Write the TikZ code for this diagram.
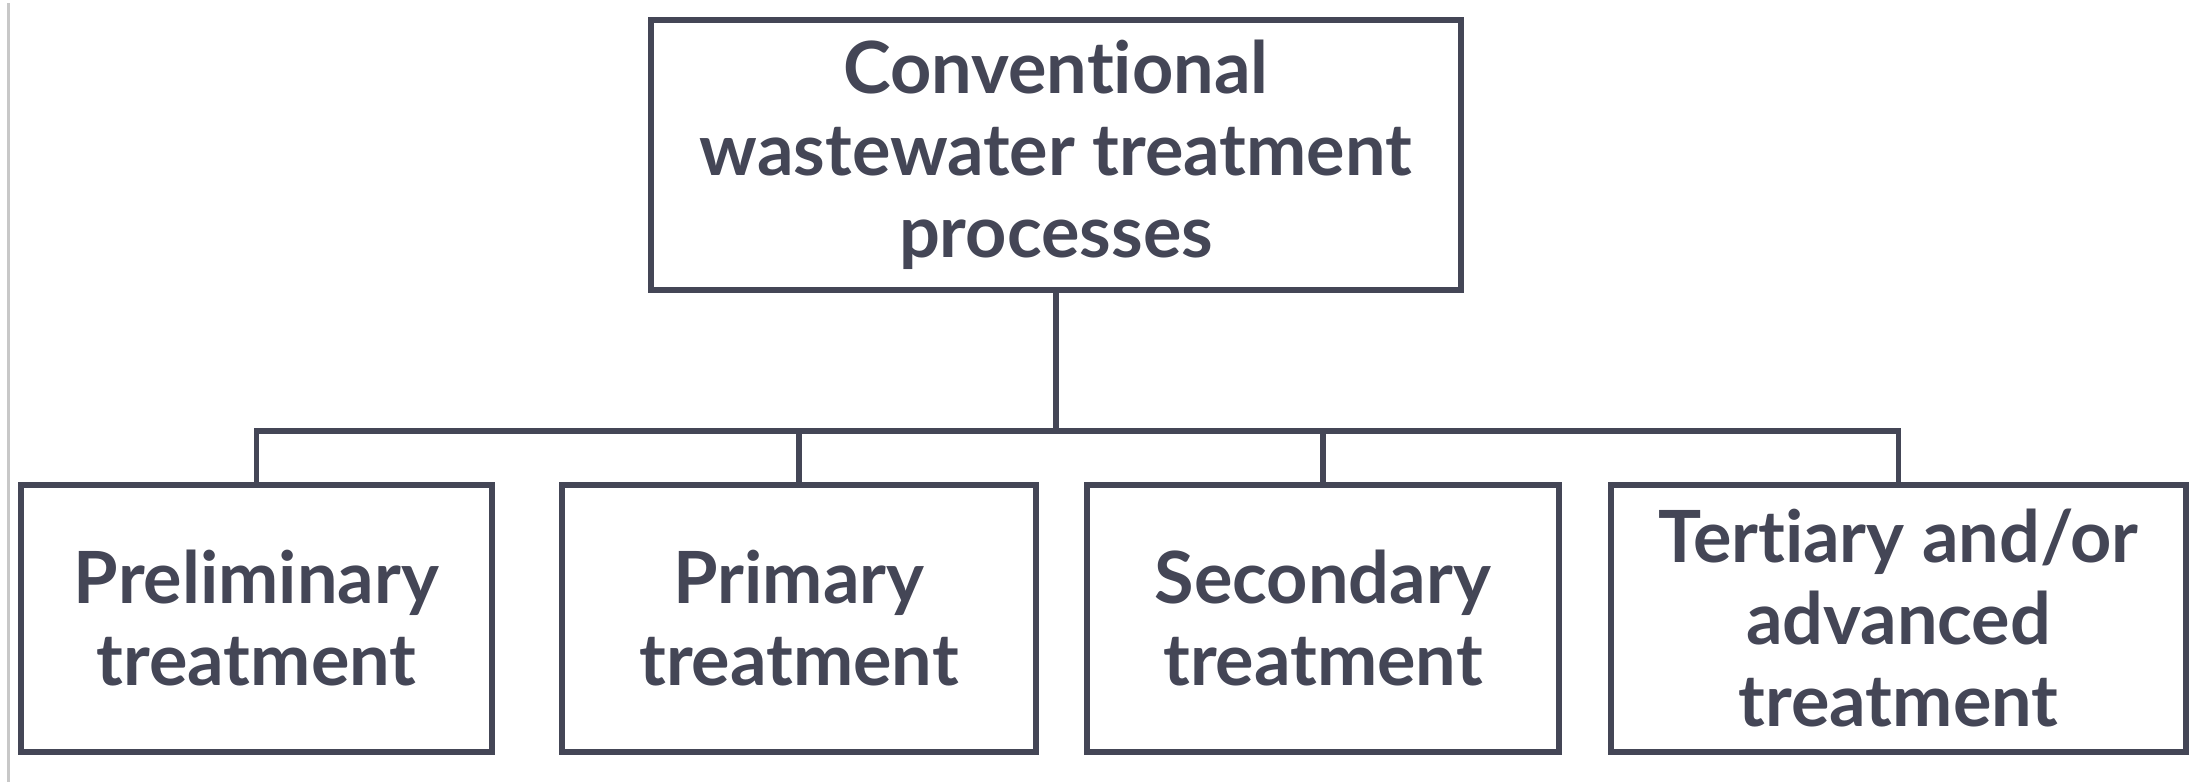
\documentclass[tikz,border=0pt]{standalone}
\usepackage{fontspec}
\setmainfont{Lato}[Ligatures=NoCommon]
\definecolor{ink}{RGB}{68,70,86}
\definecolor{edge}{RGB}{200,200,200}
\begin{document}
\begin{tikzpicture}[x=0.5pt,y=-0.5pt,
  boxstyle/.style={draw=ink, line width=3.2pt, fill=white, inner sep=0pt, align=center,
    text=ink, font=\fontsize{36}{41}\selectfont\bfseries},
  link/.style={draw=ink, line width=2.6pt}]
\useasboundingbox (0,0) rectangle (2196,782);
\draw[edge, line width=1.5pt] (8,3) -- (8,782);
\node[boxstyle, minimum width=405pt, minimum height=135pt] (top) at (1056,155)
  {Conventional\\wastewater treatment\\processes};
\node[boxstyle, minimum width=235.5pt, minimum height=133.5pt] (b1) at (256.5,618.5)
  {Preliminary\\treatment};
\node[boxstyle, minimum width=237pt, minimum height=133.5pt] (b2) at (799,618.5)
  {Primary\\treatment};
\node[boxstyle, minimum width=236pt, minimum height=133.5pt] (b3) at (1323,618.5)
  {Secondary\\treatment};
\node[boxstyle, minimum width=287.5pt, minimum height=133.5pt] (b4) at (1898.5,618.5)
  {Tertiary and/or\\advanced\\treatment};
\coordinate (bus) at (1056,431);
\draw[link] (top.south) -- (bus);
\draw[link] (b1.north) |- (bus);
\draw[link] (b4.north) |- (bus);
\draw[link] (b2.north) -- (b2.north |- bus);
\draw[link] (b3.north) -- (b3.north |- bus);
\end{tikzpicture}
\end{document}
